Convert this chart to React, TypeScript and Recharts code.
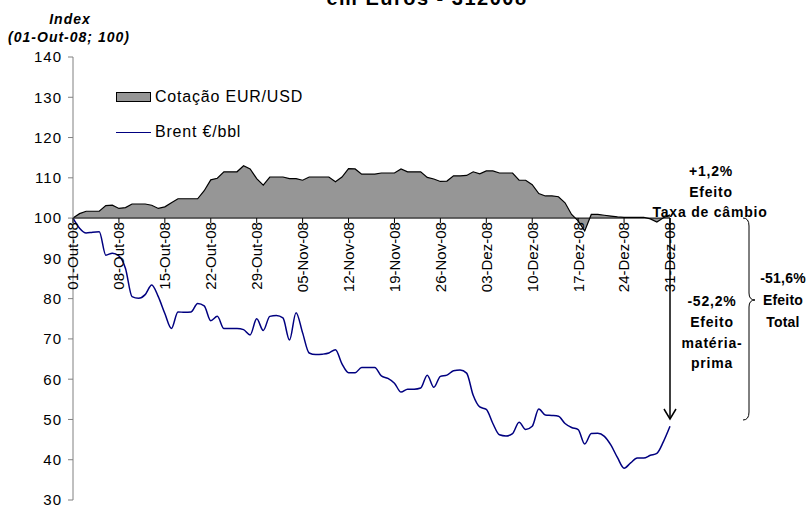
import { ComposedChart, Area, Line, XAxis, YAxis, ReferenceLine, ReferenceDot, Legend } from 'recharts';

// one value per calendar day, 01-Out-08 .. 31-Dez-08 (index 01-Out-08 = 100)
const eurUsd = [
  100, 101.1, 101.7, 101.7, 101.7, 103.1, 103.2, 102.4, 102.6, 103.5,
  103.5, 103.5, 103.2, 102.4, 102.8, 103.8, 104.8, 104.8, 104.8, 104.8,
  106.8, 109.5, 109.9, 111.5, 111.5, 111.5, 113, 112.2, 109.8, 108.2,
  110.2, 110.2, 110.2, 109.8, 109.8, 109.4, 110.2, 110.2, 110.2, 110.2,
  109, 110.2, 112.3, 112.2, 110.9, 110.9, 110.9, 111.2, 111.2, 111.2,
  112.2, 111.5, 111.5, 111.5, 110.1, 109.7, 109.1, 109.2, 110.5, 110.5,
  110.6, 111.5, 111.0, 111.7, 111.7, 111.2, 111.2, 111.2, 109.4, 109.4,
  108.3, 106.1, 105.5, 105.5, 105.3, 103.8, 100.9, 99.3, 96.8, 100.9,
  100.9, 100.7, 100.5, 100.3, 100.2, 100.2, 100.2, 100.2, 99.8, 99.0,
  100.1, 100.8,
];

const brent = [
  100, 97.5, 96.3, 96.5, 96.6, 90.8, 91.3, 90.6, 87.5, 80.5,
  80.1, 81.0, 83.4, 80.5, 76.3, 72.6, 76.7, 76.6, 76.7, 78.8,
  78.2, 74.5, 75.6, 72.6, 72.6, 72.6, 72.3, 71.0, 75.0, 72.1,
  75.6, 75.8, 75.2, 69.7, 76.5, 71.5, 66.5, 66.1, 66.2, 66.5,
  67.3, 63.8, 61.6, 61.6, 62.9, 62.9, 62.9, 60.8, 60.2, 59.0,
  56.8, 57.5, 57.5, 57.8, 61.0, 58.0, 60.7, 61.0, 62.1, 62.3,
  61.5, 56.0, 53.1, 52.5, 49.0, 46.2, 45.9, 46.5, 49.3, 47.5,
  48.3, 52.6, 51.1, 51.0, 50.8, 49.0, 48.0, 47.5, 43.9, 46.5,
  46.6, 45.8, 43.6, 40.5, 37.9, 39.2, 40.4, 40.4, 41.1, 41.6,
  44.5, 48.3,
];

const tickDays = [0, 7, 14, 21, 28, 35, 42, 49, 56, 63, 70, 77, 84, 91];
const tickLabels = [
  '01-Out-08', '08-Out-08', '15-Out-08', '22-Out-08', '29-Out-08', '05-Nov-08', '12-Nov-08',
  '19-Nov-08', '26-Nov-08', '03-Dez-08', '10-Dez-08', '17-Dez-08', '24-Dez-08', '31-Dez-08',
];
const yTicks = [30, 40, 50, 60, 70, 80, 90, 100, 110, 120, 130, 140];

const data = eurUsd.map((v, i) => ({ day: i, eur: v, brent: brent[i] }));

const FONT = '"Liberation Sans", Arial, sans-serif';

function DateTick(props: any) {
  const { cx, cy, label } = props;
  const ty = cy + 4;
  return (
    <g>
      <line x1={cx} y1={cy} x2={cx} y2={cy + 5} stroke="#000" />
      <text
        x={cx}
        y={ty}
        dy="0.36em"
        textAnchor="end"
        transform={`rotate(-90 ${cx} ${ty})`}
        fontFamily={FONT}
        fontSize={15}
        fill="#000"
      >
        {label}
      </text>
    </g>
  );
}

function LegendBox() {
  const row = { display: 'flex', alignItems: 'center', height: 20, fontFamily: FONT, fontSize: 16, letterSpacing: 0.8 } as const;
  return (
    <div>
      <div style={{ ...row, marginBottom: 15 }}>
        <span style={{ display: 'inline-block', width: 33, height: 8, background: '#969696', border: '1px solid #000', marginRight: 4 }} />
        Cotação EUR/USD
      </div>
      <div style={row}>
        <span style={{ display: 'inline-block', width: 35, height: 0, borderTop: '1.5px solid #000080', marginRight: 4 }} />
        Brent €/bbl
      </div>
    </div>
  );
}

const bold = { fontFamily: FONT, fontSize: 14, fontWeight: 700, letterSpacing: 0.8, fill: '#000' };
const boldTight = { ...bold, letterSpacing: 0.2 };

export default function App() {
  return (
    <div style={{ position: 'absolute', left: 0, top: 0, width: 808, height: 506, background: '#fff' }}>
      <ComposedChart width={808} height={506} data={data} margin={{ top: 57, right: 138, bottom: 6, left: 33 }}>
        <XAxis dataKey="day" type="number" domain={[0, 91]} hide />
        <YAxis
          type="number"
          domain={[30, 140]}
          ticks={yTicks}
          width={40}
          interval={0}
          axisLine={{ stroke: '#808080' }}
          tickLine={{ stroke: '#808080' }}
          tickSize={5}
          tickMargin={6}
          tick={{ fill: '#000', fontSize: 15, fontFamily: FONT, letterSpacing: 1 }}
        />
        <Area
          dataKey="eur"
          type="linear"
          baseValue={100}
          fill="#969696"
          fillOpacity={1}
          stroke="#000"
          strokeWidth={1.2}
          isAnimationActive={false}
        />
        <Line dataKey="brent" type="monotone" stroke="#000080" strokeWidth={1.5} dot={false} isAnimationActive={false} />
        <ReferenceLine y={100} stroke="#000" strokeWidth={1} />
        {tickDays.map((d, i) => (
          <ReferenceDot key={d} x={d} y={100} r={0} shape={(p: any) => <DateTick {...p} label={tickLabels[i]} />} />
        ))}
        <Legend
          layout="vertical"
          align="center"
          verticalAlign="middle"
          content={() => <LegendBox />}
          wrapperStyle={{ top: 87, left: 116, width: 220 }}
        />
      </ComposedChart>

      <svg width={808} height={506} style={{ position: 'absolute', left: 0, top: 0, pointerEvents: 'none' }}>
        <text x={427} y={5} textAnchor="middle" fontFamily={FONT} fontSize={20} fontWeight={700} letterSpacing={1.5}>
          em Euros - 312008
        </text>
        <text x={70} y={24} textAnchor="middle" fontFamily={FONT} fontSize={14} fontWeight={700} fontStyle="italic" letterSpacing={1}>
          Index
        </text>
        <text x={69} y={42} textAnchor="middle" fontFamily={FONT} fontSize={14} fontWeight={700} fontStyle="italic" letterSpacing={1}>
          (01-Out-08; 100)
        </text>

        {/* exchange-rate effect */}
        <text x={711} y={176} textAnchor="middle" {...bold}>+1,2%</text>
        <text x={711} y={197} textAnchor="middle" {...bold}>Efeito</text>
        <text x={710} y={217} textAnchor="middle" {...bold}>Taxa de câmbio</text>

        {/* arrow: raw-material effect */}
        <line x1={670} y1={218} x2={670} y2={419} stroke="#000" strokeWidth={1.5} />
        <polyline points="664,409 670,419 676,409" fill="none" stroke="#000" strokeWidth={1.5} />
        <text x={712} y={306} textAnchor="middle" {...bold}>-52,2%</text>
        <text x={712} y={327} textAnchor="middle" {...bold}>Efeito</text>
        <text x={712} y={348} textAnchor="middle" {...bold}>matéria-</text>
        <text x={712} y={368} textAnchor="middle" {...bold}>prima</text>

        {/* brace: total effect */}
        <path
          d="M 743 218 Q 749 218 749 226 L 749 293 Q 749 300 755 300 Q 749 300 749 307 L 749 412 Q 749 420 743 420"
          fill="none"
          stroke="#000"
          strokeWidth={1}
        />
        <text x={783} y={283} textAnchor="middle" {...boldTight}>-51,6%</text>
        <text x={783} y={305} textAnchor="middle" {...boldTight}>Efeito</text>
        <text x={783} y={327} textAnchor="middle" {...boldTight}>Total</text>
      </svg>
    </div>
  );
}
